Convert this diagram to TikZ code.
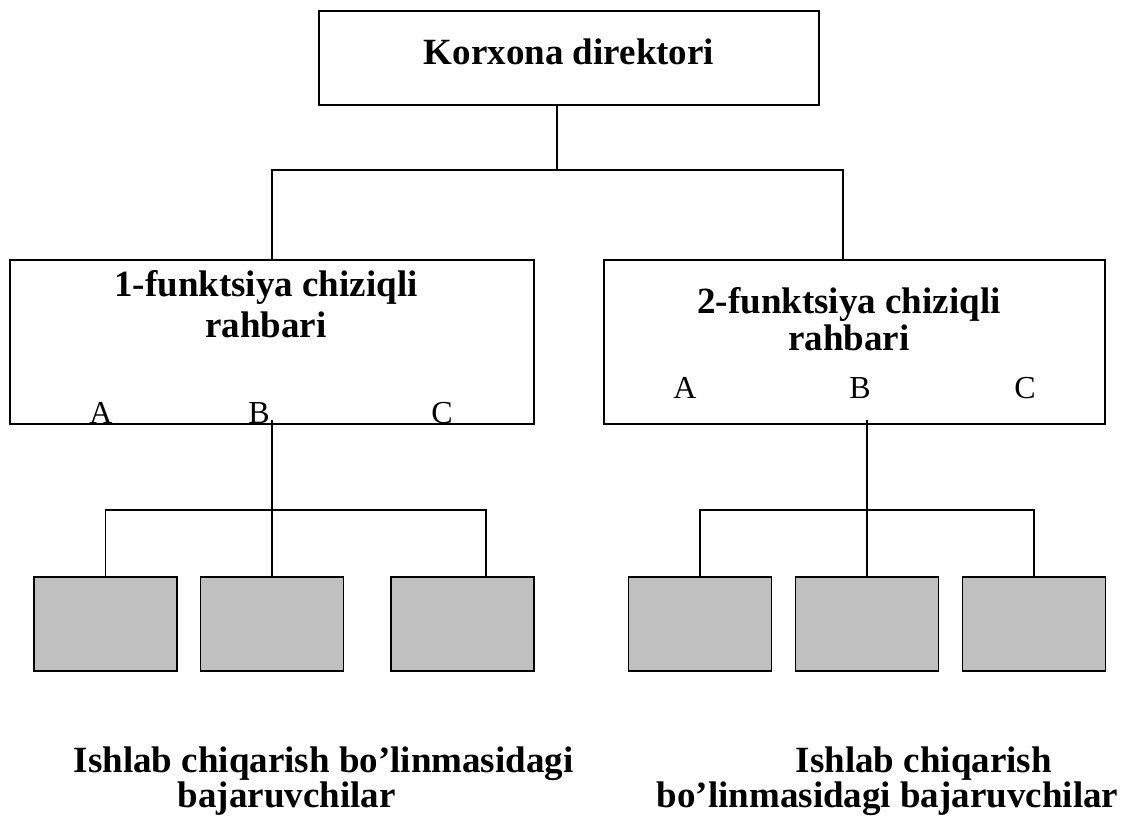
\documentclass[tikz,border=0pt]{standalone}
\usepackage{fontspec}
\setmainfont{Liberation Serif}
\definecolor{boxgray}{RGB}{192,192,192}
\begin{document}
\begin{tikzpicture}[x=0.75pt,y=-0.75pt,
  line width=1.2pt,
  frame/.style={draw=black,line width=1.2pt,inner sep=0pt,minimum height=#1},
  grayblock/.style={draw=black,fill=boxgray,line width=1.2pt,inner sep=0pt,minimum width=107.25pt,minimum height=70.5pt},
  title/.style={font=\bfseries\fontsize{27.75}{#1}\selectfont,inner sep=0pt,anchor=base,align=center},
  letter/.style={font=\fontsize{24}{28}\selectfont,inner sep=0pt,anchor=base},
  conn/.style={draw=black,line width=1.2pt}]
\useasboundingbox (0,0) rectangle (1122,820);
% boxes
\node[frame=70.5pt,minimum width=375pt] (top) at (569,58) {};
\node[frame=123pt,minimum width=393pt] (L) at (272,342) {};
\node[frame=123pt,minimum width=375.75pt] (R) at (854.5,342) {};
\node[grayblock] (g1) at (105.5,624) {};
\node[grayblock] (g2) at (272,624) {};
\node[grayblock] (g3) at (462.5,624) {};
\node[grayblock] (g4) at (700,624) {};
\node[grayblock] (g5) at (867,624) {};
\node[grayblock] (g6) at (1034,624) {};
% texts (base anchor = baseline of the last line)
\node[title=30pt] (ttop) at (569,65) {Korxona direktori};
\node[title=30.75pt] (tL) at (266,337) {1-funktsiya chiziqli\\rahbari};
\node[title=27.75pt] (tR) at (849,350) {2-funktsiya chiziqli\\rahbari};
\node[letter] (LA) at (101,423) {A};
\node[letter] (LB) at (259,423) {B};
\node[letter] (LC) at (442,423) {C};
\node[letter] (RA) at (685,398) {A};
\node[letter] (RB) at (860,398) {B};
\node[letter] (RC) at (1025,398) {C};
\node[title=26.25pt,anchor=base west,align=left] (bl) at (73,807) {Ishlab chiqarish bo’linmasidagi\\\hspace*{78pt}bajaruvchilar};
\node[title=26.25pt,anchor=base west,align=left] (br) at (656,807) {\hspace*{104.25pt}Ishlab chiqarish\\bo’linmasidagi bajaruvchilar};
% connectors
\coordinate (j0) at (557,170);
\coordinate (cL) at (272,170);
\coordinate (cR) at (843,170);
\draw[conn] (j0 |- top.south) -- (j0);
\draw[conn] (L.north) -- (cL) -- (cR) -- (cR |- R.north);
\coordinate (bL) at (272,420);
\coordinate (hL1) at (105.5,510);
\coordinate (hL3) at (486,510);
\draw[conn] (bL) -- (g2.north);
\draw[conn] (g1.north) -- (hL1) -- (hL3) -- (hL3 |- g3.north);
\coordinate (bR) at (867,420);
\coordinate (hR1) at (700,510);
\coordinate (hR3) at (1034,510);
\draw[conn] (bR) -- (g5.north);
\draw[conn] (g4.north) -- (hR1) -- (hR3) -- (g6.north);
\end{tikzpicture}
\end{document}
